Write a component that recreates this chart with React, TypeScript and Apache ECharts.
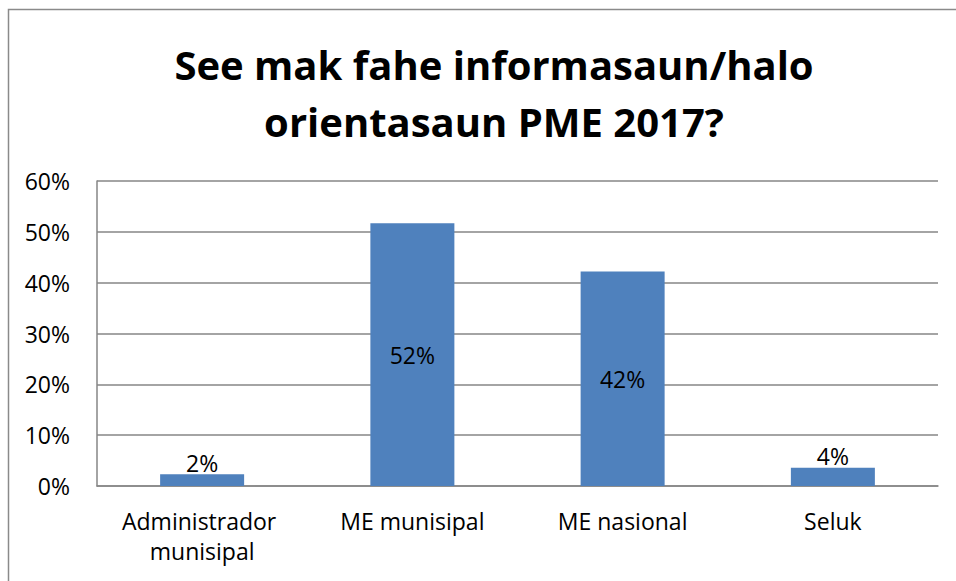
import React, { useEffect, useRef } from "react";
import * as echarts from "echarts";

const categories = ["Administrador munisipal", "ME munisipal", "ME nasional", "Seluk"];
const values = [0.023, 0.517, 0.422, 0.036];
const yTicks = { min: 0, max: 0.6, interval: 0.1 };
const titleText = "See mak fahe informasaun/halo\norientasaun PME 2017?";

const FONT = "'Open Sans', Lato, sans-serif";

export default function App() {
  const ref = useRef<HTMLDivElement>(null);
  useEffect(() => {
    if (!ref.current) return;
    const chart = echarts.init(ref.current, null, { renderer: "svg" });
    const pct = (v: number) => Math.round(v * 100) + "%";
    chart.setOption({
      animation: false,
      backgroundColor: "#ffffff",
      textStyle: { fontFamily: FONT },
      title: {
        text: titleText,
        left: 489,
        textAlign: "center",
        top: 31,
        textStyle: {
          fontFamily: FONT,
          fontSize: 40,
          fontWeight: "bold",
          lineHeight: 57,
          color: "#000",
        },
      },
      graphic: [
        {
          type: "rect",
          shape: { x: 8.5, y: 9.5, width: 1000, height: 700 },
          style: { fill: "none", stroke: "#8a8a8a", lineWidth: 1.5 },
          silent: true,
        },
      ],
      grid: { left: 97, right: 18, top: 181, bottom: 95, containLabel: false },
      xAxis: {
        type: "category",
        data: categories,
        axisLine: { show: true, lineStyle: { color: "#868686", width: 1.5 } },
        axisTick: { show: false },
        axisLabel: {
          color: "#000",
          fontSize: 23,
          fontFamily: FONT,
          margin: 20,
          lineHeight: 30,
          width: 195,
          overflow: "break",
          interval: 0,
        },
      },
      yAxis: {
        type: "value",
        min: yTicks.min,
        max: yTicks.max,
        interval: yTicks.interval,
        axisLine: { show: true, lineStyle: { color: "#868686", width: 1.5 } },
        axisTick: { show: false },
        splitLine: { show: true, lineStyle: { color: "#868686", width: 1.5 } },
        axisLabel: {
          color: "#000",
          fontSize: 23,
          fontFamily: FONT,
          margin: 27,
          formatter: (v: number) => pct(v),
        },
      },
      series: [
        {
          type: "bar",
          barWidth: 84,
          data: values.map((v) => ({
            value: v,
            label: {
              show: true,
              position: v < 0.1 ? "top" : "inside",
              distance: 0,
            },
          })),
          itemStyle: { color: "#4F81BD" },
          label: {
            show: true,
            color: "#000",
            fontSize: 23,
            fontFamily: FONT,
            formatter: (p: any) => pct(p.value),
          },
        },
      ],
    });
    return () => chart.dispose();
  }, []);
  return (
    <div
      ref={ref}
      style={{ position: "absolute", left: 0, top: 0, width: 956, height: 581 }}
    />
  );
}
